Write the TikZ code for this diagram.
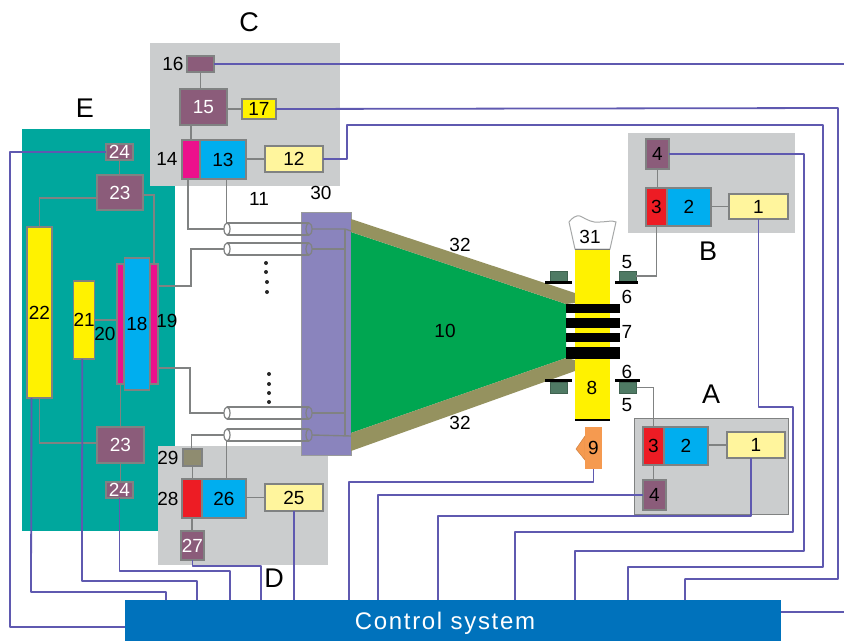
\documentclass[tikz,border=0pt]{standalone}
\usepackage{xcolor}
\usepackage{fontspec}
\setmainfont{Liberation Sans}
\newfontfamily\ctrlfont[LetterSpace=7]{Liberation Sans}
\usepackage{tikz}
\usetikzlibrary{positioning,shapes.geometric,calc}
\definecolor{tealbg}{HTML}{00A79D}
\definecolor{panelgrey}{HTML}{CBCDCE}
\definecolor{edgegrey}{HTML}{808282}
\definecolor{wireblue}{HTML}{5F59B0}
\definecolor{drvyellow}{HTML}{FFF200}
\definecolor{paleyellow}{HTML}{FFF59D}
\definecolor{ampblue}{HTML}{00AEEF}
\definecolor{magbar}{HTML}{EC108C}
\definecolor{redbar}{HTML}{ED1C24}
\definecolor{plum}{HTML}{8B5C7A}
\definecolor{khaki}{HTML}{8F8C70}
\definecolor{coilgreen}{HTML}{4F7A64}
\definecolor{cone}{HTML}{00A651}
\definecolor{coneedge}{HTML}{95925F}
\definecolor{barrel}{HTML}{8A84BD}
\definecolor{orangebox}{HTML}{F59A50}
\definecolor{ctrlblue}{HTML}{0072BC}
\tikzset{
  box/.style    = {draw=edgegrey, line width=1.2pt, align=center, inner sep=0pt,
                   outer sep=0pt, font=\fontsize{19}{21}\selectfont},
  pmt/.style    = {box, fill=plum, text=white},
  pmtk/.style   = {box, fill=plum},
  driver/.style = {box, fill=drvyellow},
  supply/.style = {box, fill=paleyellow},
  amp/.style    = {box, fill=ampblue},
  magb/.style   = {box, fill=magbar},
  redb/.style   = {box, fill=redbar},
  coil/.style   = {fill=coilgreen, draw=coilgreen!80!black, line width=0.4pt, inner sep=0pt, outer sep=0pt},
  plate/.style  = {fill=black, inner sep=0pt, outer sep=0pt, minimum height=3pt},
  stackbar/.style = {fill=black, inner sep=0pt, outer sep=0pt, minimum width=54pt},
  panel/.style  = {fill=panelgrey, inner sep=0pt, outer sep=0pt},
  lab/.style    = {font=\fontsize{19}{21}\selectfont, inner sep=0pt},
  biglab/.style = {font=\fontsize{27}{29}\selectfont, inner sep=0pt},
  lead/.style   = {draw=edgegrey, line width=1.4pt},
  wire/.style   = {draw=wireblue, line width=1.8pt, line join=round},
  coaxend/.style = {ellipse, draw=edgegrey, line width=1.2pt, inner sep=0pt, outer sep=0pt,
                   minimum width=6pt, minimum height=12pt},
  dotn/.style   = {circle, fill=black!85, inner sep=0pt, minimum size=4pt},
}
\begin{document}
\begin{tikzpicture}[x=1pt,y=-1pt]
  \useasboundingbox (0,0) rectangle (844,641);

  % --- backgrounds ---
  \node[fill=tealbg, inner sep=0pt, minimum width=153pt, minimum height=402pt] (ebg) at (98.5,330) {};
  \node[panel, minimum width=190.5pt, minimum height=143pt] (cbg) at (244.75,114.5) {};
  \node[panel, minimum width=170pt, minimum height=119pt] (dbg) at (243,505.5) {};
  \node[panel, minimum width=167pt, minimum height=100pt] (bbg) at (711.5,183) {};
  \node[panel, draw=edgegrey, line width=1pt, minimum width=154pt, minimum height=96pt] (abg) at (711,466) {};

  % --- tube ---
  \node[fill=barrel, draw=edgegrey!80, line width=0.5pt, inner sep=0pt, outer sep=0pt, minimum width=50pt, minimum height=243pt] (gun) at (326,333.5) {};
  \fill[cone] (351,232) -- (566,304) -- (566,358) -- (351,433) -- cycle;
  \fill[coneedge] (351,219) -- (575,293) -- (575,303) -- (566,304) -- (351,232) -- cycle;
  \fill[coneedge] (351,433) -- (566,358) -- (575,360) -- (575,371) -- (351,451) -- cycle;
  \node[fill=drvyellow, inner sep=0pt, outer sep=0pt, minimum width=35pt, minimum height=171pt] (col) at (592.5,334.5) {};
  \draw[black, line width=1.8pt] (col.north west) -- (col.north east);
  \draw[black, line width=1.8pt] (col.south west) -- (col.south east);
  \draw[edgegrey!70, line width=1pt, fill=white] (col.north west) -- (569,222) .. controls (572,218) and (576,215) .. (580,216) .. controls (588,220) and (592,223) .. (600,222) .. controls (606,222) and (612,220) .. (616,222) -- (col.north east) -- cycle;
  \node[stackbar, minimum height=9pt] (bar1) at (593,308.5) {};
  \node[stackbar, minimum height=10pt] (bar2) at (593,323) {};
  \node[stackbar, minimum height=9pt] (bar3) at (593,337.5) {};
  \node[stackbar, minimum height=12pt] (bar4) at (593,353) {};
  \node[coil, minimum width=17pt, minimum height=10pt] (ctl) at (559,276) {};
  \node[plate, minimum width=27pt] (ptl) at (558.5,282.5) {};
  \node[coil, minimum width=17pt, minimum height=10pt] (ctr) at (627.5,276) {};
  \node[plate, minimum width=23pt] (ptr) at (626.5,282.5) {};
  \node[coil, minimum width=17pt, minimum height=11pt] (cbl) at (558.5,387.5) {};
  \node[plate, minimum width=27pt] (pbl) at (558.5,380.5) {};
  \node[coil, minimum width=17pt, minimum height=11pt] (cbr) at (628,387.5) {};
  \node[plate, minimum width=25pt] (pbr) at (627.5,380.5) {};

  % --- unit C ---
  \node[pmt, minimum width=27pt, minimum height=16pt] (u16) at (200.5,64) {};
  \node[pmt, minimum width=47pt, minimum height=36pt] (u15) at (203.5,107) {15};
  \node[driver, minimum width=34pt, minimum height=20pt] (u17) at (259,109) {17};
  \node[magb, minimum width=18pt, minimum height=39pt] (u14) at (191,159.5) {};
  \node[amp, minimum width=46pt, minimum height=39pt] (u13) at (223,159.5) {13};
  \node[supply, minimum width=58pt, minimum height=26pt] (u12) at (294,159) {12};

  % --- unit E ---
  \node[pmt, minimum width=27pt, minimum height=16pt] (u24t) at (119.5,152) {24};
  \node[pmt, minimum width=46pt, minimum height=35pt] (u23t) at (120,192.5) {23};
  \node[driver, minimum width=25pt, minimum height=171pt] (u22) at (39.5,312.5) {22};
  \node[driver, minimum width=20.5pt, minimum height=78pt] (u21) at (84.25,320) {21};
  \node[magb, minimum width=7pt, minimum height=120pt] (m20) at (120.5,324) {};
  \node[magb, minimum width=8pt, minimum height=120pt] (m19) at (154,324) {};
  \node[amp, minimum width=25pt, minimum height=132pt] (u18) at (137,324) {18};
  \node[pmt, minimum width=47pt, minimum height=36pt] (u23b) at (120.5,445) {23};
  \node[pmt, minimum width=27pt, minimum height=16pt] (u24b) at (119.5,490) {24};

  % --- unit D ---
  \node[box, fill=khaki, minimum width=19pt, minimum height=17pt] (u29) at (192.5,457.5) {};
  \node[redb, minimum width=20pt, minimum height=39pt] (u28) at (192,498.5) {};
  \node[amp, minimum width=44pt, minimum height=39pt] (u26) at (224,498.5) {26};
  \node[supply, minimum width=58pt, minimum height=27pt] (u25) at (294,497.5) {25};
  \node[pmt, minimum width=23pt, minimum height=29pt] (u27) at (192.5,545.5) {27};

  % --- unit B ---
  \node[pmtk, minimum width=23pt, minimum height=30pt] (u4b) at (657.5,154) {4};
  \node[redb, minimum width=21pt, minimum height=38pt] (u3b) at (656.5,207) {3};
  \node[amp, minimum width=44pt, minimum height=38pt] (u2b) at (689,207) {2};
  \node[supply, minimum width=59pt, minimum height=25pt] (u1b) at (758.5,206.5) {1};

  % --- unit A ---
  \node[redb, minimum width=21pt, minimum height=38pt] (u3a) at (653.5,446) {3};
  \node[amp, minimum width=44pt, minimum height=38pt] (u2a) at (686,446) {2};
  \node[supply, minimum width=58pt, minimum height=26pt] (u1a) at (756,445) {1};
  \node[pmtk, minimum width=23pt, minimum height=30pt] (u4a) at (654.5,495) {4};

  % --- deflector lamp 9 ---
  \filldraw[fill=orangebox, draw=orangebox!85!black, line width=0.5pt] (585,436) -- (576,449) -- (585,460) -- cycle;
  \node[fill=orangebox, inner sep=0pt, outer sep=0pt, font=\fontsize{19}{21}\selectfont, minimum width=17pt, minimum height=42pt] (u9) at (593.5,448) {9};

  \node[fill=ctrlblue, text=white, inner sep=0pt, outer sep=0pt, minimum width=656pt, minimum height=41pt] (ctrl) at (453,620.5) {};
  \node[text=white, inner sep=0pt, font=\ctrlfont\fontsize{24}{26}\selectfont] (ctrltxt) at (445,623) {Control system};

  % --- coax lines ---
  \node[coaxend] (cx1l) at (227,229) {};
  \node[coaxend] (cx1r) at (309,229) {};
  \node[coaxend] (cx2l) at (227,249) {};
  \node[coaxend] (cx2r) at (309,249) {};
  \node[coaxend] (cx3l) at (227,413) {};
  \node[coaxend] (cx3r) at (309,413) {};
  \node[coaxend] (cx4l) at (227,435) {};
  \node[coaxend] (cx4r) at (309,435) {};
  \draw[lead] (cx1l.north) -- (cx1r.north);
  \draw[lead] (cx1l.south) -- (cx1r.south);
  \draw[lead] (cx2l.north) -- (cx2r.north);
  \draw[lead] (cx2l.south) -- (cx2r.south);
  \draw[lead] (cx3l.north) -- (cx3r.north);
  \draw[lead] (cx3l.south) -- (cx3r.south);
  \draw[lead] (cx4l.north) -- (cx4r.north);
  \draw[lead] (cx4l.south) -- (cx4r.south);

  % --- grey leads ---
  \draw[lead] (u16.south) -- (u16.south |- u15.north);
  \draw[lead] (u14.north) -- (u14.north |- u15.south);
  \draw[lead] (u15.east |- u17.west) -- (u17.west);
  \draw[lead] (u13.east |- u12.west) -- (u12.west);
  \draw[lead] ([xshift=-3pt]u14.south) |- (cx1l.west);
  \draw[lead] ([xshift=3.5pt]u13.south) -- ([xshift=3.5pt]u13.south |- cx1l.north);
  \draw[lead] ([yshift=38pt]m19.east) -| (191,249) -- (cx2l.west);
  \draw[lead] ([yshift=-44pt]m19.east) -| (190,413) -- (cx3l.west);
  \draw[lead] ([xshift=-1pt]u29.north) |- (cx4l.west);
  \draw[lead] ([xshift=2.5pt]u26.north) -- ([xshift=2.5pt]u26.north |- cx4l.south);
  \draw[lead] (cx1r.east) -- (345,229) -- (351,231);
  \draw[lead] (cx2r.east) -- (345,249);
  \draw[lead] (cx3r.east) -- (345,413);
  \draw[lead] (cx4r.east) -- (351,436);
  \draw[lead] (345,229) -- (345,436);
  \draw[lead] (u24t.south) -- (u24t.south |- u23t.north);
  \draw[lead] ([yshift=-5.5pt]u23t.west) -| (u22.north);
  \draw[lead] ([yshift=-2.5pt]u23t.east) -| (m19.north);
  \draw[lead] ([yshift=2pt]u23b.west) -| (u22.south);
  \draw[lead] (m20.south) -- (m20.south |- u23b.north);
  \draw[lead] (u23b.south) -- (u23b.south |- u24b.north);
  \draw[lead] (u21.east) -- (u21.east -| m20.west);
  \draw[lead] (u29.south) -- (u29.south |- u28.north);
  \draw[lead] (u28.south) -- (u28.south |- u27.north);
  \draw[lead] (u26.east |- u25.west) -- (u25.west);
  \draw[lead] (u4b.south) -- (u4b.south |- u3b.north);
  \draw[lead] (u2b.east |- u1b.west) -- (u1b.west);
  \draw[lead] (u3b.south) |- (ctr.east);
  \draw[lead] (cbr.east) -| (u3a.north);
  \draw[lead] (u3a.south) -- (u3a.south |- u4a.north);
  \draw[lead] (u2a.east |- u1a.west) -- (u1a.west);

  % --- control wires ---
  \draw[wire] (u16.east) -- (844,64);
  \draw[wire] (u17.east) -- (838,108) -- (838,579) -- (685,579) -- (685,0 |- ctrl.north);
  \draw[wire] (u12.east) -- (347,159) -- (347,125) -- (823,125) -- (823,567) -- (628,567) -- (628,0 |- ctrl.north);
  \draw[wire] (u4b.east) -- (804,154) -- (804,551) -- (575,551) -- (575,0 |- ctrl.north);
  \draw[wire] (u1b.south) -- (758.5,407) -- (793,407) -- (793,532) -- (515,532) -- (515,0 |- ctrl.north);
  \draw[wire] ([xshift=-5pt]u1a.south) -- (751,516) -- (438,516) -- (438,0 |- ctrl.north);
  \draw[wire] (u4a.west) -- (378,495) -- (378,0 |- ctrl.north);
  \draw[wire] (u9.south) -- (593.5,482) -- (349,482) -- (349,0 |- ctrl.north);
  \draw[wire] (u25.south) -- (u25.south |- ctrl.north);
  \draw[wire] (u27.south) -- (192.5,566) -- (261,566) -- (261,0 |- ctrl.north);
  \draw[wire] (u24b.south) -- (119.5,571) -- (230,571) -- (230,0 |- ctrl.north);
  \draw[wire] ([xshift=-2pt]u21.south) -- (82,581) -- (197,581) -- (197,0 |- ctrl.north);
  \draw[wire] ([xshift=-8pt]u22.south) -- (31,592) -- (166,592) -- (166,0 |- ctrl.north);
  \draw[wire] (u24t.west) -- (10,152) -- (10,627) -- (ctrl.west |- 0,627);
  \draw[wire] (ctrl.east |- 0,612) -- (844,612);

  % --- dots ---
  \node[dotn] (d1) at (266,263) {};
  \node[dotn] (d2) at (266,272) {};
  \node[dotn] (d3) at (267,282) {};
  \node[dotn] (d4) at (267,292) {};
  \node[dotn] (d5) at (269,374) {};
  \node[dotn] (d6) at (269,384) {};
  \node[dotn] (d7) at (269,393) {};
  \node[dotn] (d8) at (269,402) {};

  % --- labels ---
  \node[biglab] (labC) at (249,22) {C};
  \node[biglab] (labE) at (85,108) {E};
  \node[biglab] (labB) at (708,251) {B};
  \node[biglab] (labA) at (711,394) {A};
  \node[biglab] (labD) at (274,578) {D};
  \node[lab] (lab16) at (173,64) {16};
  \node[lab] (lab14) at (167,159) {14};
  \node[lab] (lab11) at (259,199) {11};
  \node[lab] (lab30) at (321,193) {30};
  \node[lab] (lab19) at (167,321) {19};
  \node[lab] (lab20) at (105,334) {20};
  \node[lab] (lab29) at (168,458) {29};
  \node[lab] (lab28) at (168,499) {28};
  \node[lab] (lab10) at (445,331) {10};
  \node[lab] (lab32a) at (460,245) {32};
  \node[lab] (lab32b) at (460,423) {32};
  \node[lab] (lab31) at (590,237) {31};
  \node[lab] (lab8) at (592,388) {8};
  \node[lab] (lab5a) at (627,262) {5};
  \node[lab] (lab6a) at (627,297) {6};
  \node[lab] (lab7) at (627,332) {7};
  \node[lab] (lab6b) at (627,372) {6};
  \node[lab] (lab5b) at (627,405) {5};
\end{tikzpicture}
\end{document}
